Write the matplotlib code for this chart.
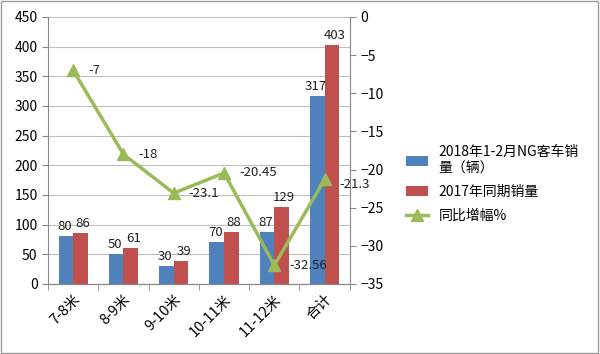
import matplotlib.pyplot as plt
import numpy as np

plt.rcParams['font.family'] = ['Noto Sans CJK SC', 'DejaVu Sans']

categories = ['7-8米', '8-9米', '9-10米', '10-11米', '11-12米', '合计']
sales_2018 = [80, 50, 30, 70, 87, 317]
sales_2017 = [86, 61, 39, 88, 129, 403]
growth = [-7, -18, -23.1, -20.45, -32.56, -21.3]
growth_labels = ['-7', '-18', '-23.1', '-20.45', '-32.56', '-21.3']

blue = '#4F81BD'
red = '#C0504D'
green = '#9BBB59'

fig = plt.figure(figsize=(6, 3.54), dpi=100)
ax = fig.add_axes([0.08, 0.198, 0.503, 0.754])
ax2 = ax.twinx()

x = np.arange(len(categories))
w = 0.29
b1 = ax.bar(x - w / 2, sales_2018, w, color=blue, label='2018年1-2月NG客车销\n量（辆）', zorder=2)
b2 = ax.bar(x + w / 2, sales_2017, w, color=red, label='2017年同期销量', zorder=2)
for xi, v in zip(x, sales_2018):
    ax.text(xi - w / 2 - 0.03, v + 5, str(v), ha='center', va='bottom', fontsize=9.5, color='#222222')
for xi, v in zip(x, sales_2017):
    ax.text(xi + w / 2 + 0.05, v + 5, str(v), ha='center', va='bottom', fontsize=9.5, color='#222222')

ln, = ax2.plot(x, growth, color=green, lw=2.5, marker='^', ms=9, label='同比增幅%', zorder=3)
for i, (xi, v, s) in enumerate(zip(x, growth, growth_labels)):
    # last label sits against the right axis; nudge it below the -20 tick label
    dy = -0.7 if i == len(x) - 1 else 0
    ax2.text(xi + 0.3, v + dy, s, ha='left', va='center', fontsize=9.5, color='#222222')

ax.set_xlim(-0.5, len(categories) - 0.5)
ax.set_ylim(0, 450)
ax.set_yticks(range(0, 451, 50))
ax2.set_ylim(-35, 0)
ax2.set_yticks(range(-35, 1, 5))
ax.grid(axis='y', color='#BFBFBF', lw=0.8, zorder=0)
ax.set_axisbelow(True)

ax.set_xticks(x)
ax.set_xticklabels(categories, rotation=45, ha='right', rotation_mode='anchor', fontsize=10.5)
ax.set_xticks(np.arange(-0.5, len(categories), 1), minor=True)
ax.tick_params(axis='x', which='major', length=0, pad=6)
ax.tick_params(axis='x', which='minor', length=4, color='#888888')
ax.tick_params(axis='y', length=4, color='#888888', labelsize=10)
ax2.tick_params(axis='y', length=4, color='#888888', labelsize=10)

for a in (ax, ax2):
    for side in ('top', 'right', 'left'):
        a.spines[side].set_visible(False)
    a.spines['bottom'].set_color('#888888')
ax.spines['left'].set_visible(True)
ax.spines['left'].set_color('#888888')
ax2.spines['right'].set_visible(True)
ax2.spines['right'].set_color('#888888')

fig.legend(handles=[b1, b2, ln], loc='upper left', bbox_to_anchor=(0.655, 0.625),
           frameon=False, fontsize=10, handlelength=1.6, labelspacing=0.7)

fig.patches.append(plt.Rectangle((0.002, 0.003), 0.995, 0.993, transform=fig.transFigure,
                                 fill=False, ec='#999999', lw=1))

fig.savefig('out.png', dpi=100)
